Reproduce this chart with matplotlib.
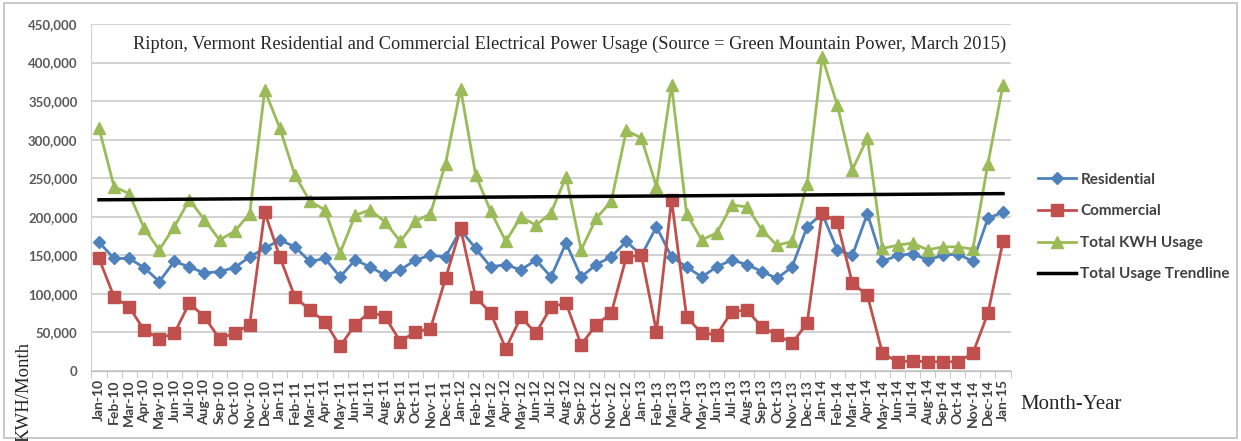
#导入相关模块
import matplotlib
matplotlib.use('Agg')
import matplotlib.pyplot as plt
from matplotlib.patches import Rectangle
from matplotlib.ticker import FuncFormatter, MultipleLocator

#1.数据: 月份标签和三条曲线 (KWH/月)
months = ['Jan-10', 'Feb-10', 'Mar-10', 'Apr-10', 'May-10', 'Jun-10', 'Jul-10', 'Aug-10', 'Sep-10', 'Oct-10', 'Nov-10', 'Dec-10',
          'Jan-11', 'Feb-11', 'Mar-11', 'Apr-11', 'May-11', 'Jun-11', 'Jul-11', 'Aug-11', 'Sep-11', 'Oct-11', 'Nov-11', 'Dec-11',
          'Jan-12', 'Feb-12', 'Mar-12', 'Apr-12', 'May-12', 'Jun-12', 'Jul-12', 'Aug-12', 'Sep-12', 'Oct-12', 'Nov-12', 'Dec-12',
          'Jan-13', 'Feb-13', 'Mar-13', 'Apr-13', 'May-13', 'Jun-13', 'Jul-13', 'Aug-13', 'Sep-13', 'Oct-13', 'Nov-13', 'Dec-13',
          'Jan-14', 'Feb-14', 'Mar-14', 'Apr-14', 'May-14', 'Jun-14', 'Jul-14', 'Aug-14', 'Sep-14', 'Oct-14', 'Nov-14', 'Dec-14',
          'Jan-15']

residential = [167000, 146000, 146000, 134000, 116000, 142000, 135000, 127000, 129000, 134000, 148000, 159000,
               170000, 161000, 142000, 146000, 122000, 144000, 135000, 124000, 131000, 144000, 150000, 148000,
               183000, 159000, 135000, 138000, 131000, 144000, 122000, 166000, 122000, 138000, 148000, 168000,
               150000, 187000, 148000, 135000, 122000, 135000, 144000, 138000, 129000, 120000, 135000, 187000,
               204000, 157000, 150000, 204000, 142000, 150000, 152000, 144000, 150000, 152000, 142000, 198000,
               206000]

commercial = [146000, 96000, 83000, 53000, 42000, 49000, 88000, 70000, 42000, 49000, 60000, 206000,
              148000, 96000, 79000, 64000, 32000, 60000, 77000, 70000, 38000, 51000, 55000, 120000,
              185000, 96000, 75000, 29000, 70000, 49000, 83000, 88000, 34000, 60000, 75000, 148000,
              150000, 51000, 222000, 70000, 49000, 47000, 77000, 79000, 57000, 47000, 36000, 62000,
              205000, 193000, 114000, 98000, 23000, 12000, 13000, 12000, 12000, 12000, 23000, 75000,
              168000]

total_kwh = [315000, 239000, 230000, 185000, 157000, 187000, 222000, 196000, 170000, 181000, 204000, 364000,
             315000, 254000, 220000, 209000, 153000, 202000, 209000, 193000, 168000, 194000, 204000, 269000,
             366000, 254000, 207000, 168000, 200000, 189000, 205000, 252000, 157000, 198000, 220000, 312000,
             302000, 239000, 371000, 204000, 170000, 179000, 215000, 213000, 183000, 163000, 168000, 243000,
             407000, 345000, 261000, 302000, 159000, 163000, 166000, 157000, 161000, 161000, 158000, 269000,
             371000]

#趋势线两端的值 (Jan-10 和 Jan-15)
trend_ends = [222000, 230000]
y_ticks = [0, 50000, 100000, 150000, 200000, 250000, 300000, 350000, 400000, 450000]

#2.画布
fig = plt.figure(figsize=(12.41, 4.41), dpi=100)
ax = fig.add_axes([0.0737, 0.1587, 0.7406, 0.787])

x = list(range(len(months)))
ax.plot(x, residential, color='#4f81bd', lw=2, marker='D', ms=6, label='Residential', zorder=3)
ax.plot(x, commercial, color='#c0504d', lw=2, marker='s', ms=8, label='Commercial', zorder=3)
ax.plot(x, total_kwh, color='#9bbb59', lw=2, marker='^', ms=8, label='Total KWH Usage', zorder=3)
ax.plot([x[0], x[-1]], trend_ends, color='black', lw=2.5, label='Total Usage Trendline', zorder=4)

#3.坐标轴
ax.set_xlim(-0.5, len(months) - 0.5)
ax.set_ylim(0, 450000)
ax.set_yticks(y_ticks)
ax.yaxis.set_major_formatter(FuncFormatter(lambda v, p: f'{int(v):,}'))
ax.set_xticks(x)
ax.set_xticklabels(months, rotation=90, fontsize=10, fontweight='bold', color='#404040', family='Lato')
ax.xaxis.set_minor_locator(MultipleLocator(1, offset=0.5))
ax.tick_params(axis='x', which='major', length=0, pad=6)
ax.tick_params(axis='x', which='minor', length=5, color='#bfbfbf')
ax.tick_params(axis='y', length=0, pad=10, labelsize=9.5, labelcolor='#595959')
for t in ax.get_yticklabels():
    t.set_family('Lato')
    t.set_fontweight('bold')

ax.grid(axis='y', color='#cfcfcf', lw=1.3)
ax.set_axisbelow(True)
for s in ['top', 'right']:
    ax.spines[s].set_visible(False)
ax.spines['left'].set_color('#cfcfcf')
ax.spines['bottom'].set_color('#bfbfbf')

#4.文字
ax.text(0.52, 0.94, 'Ripton, Vermont Residential and Commercial Electrical Power Usage (Source = Green Mountain Power, March 2015)',
        transform=ax.transAxes, ha='center', va='center', fontsize=13.2, family='Liberation Serif', color='#262626')
fig.text(0.019, 0.11, 'KWH/Month', rotation=90, ha='center', va='center', fontsize=13.5,
         family='Liberation Serif', color='#262626')
fig.text(0.822, 0.082, 'Month-Year', ha='left', va='center', fontsize=15, family='Liberation Serif', color='#262626')

leg = fig.legend(loc='center left', bbox_to_anchor=(0.825, 0.485), frameon=False,
                 prop={'family': 'Lato', 'size': 11, 'weight': 'bold'}, handlelength=2.5,
                 labelspacing=1.15, handletextpad=0.3)
for t in leg.get_texts():
    t.set_color('#404040')

#5.外边框
fig.patches.append(Rectangle((0.003, 0.006), 0.994, 0.988, transform=fig.transFigure, fill=False,
                             edgecolor='#bfbfbf', lw=1.2))

plt.savefig('out.png', dpi=100)
